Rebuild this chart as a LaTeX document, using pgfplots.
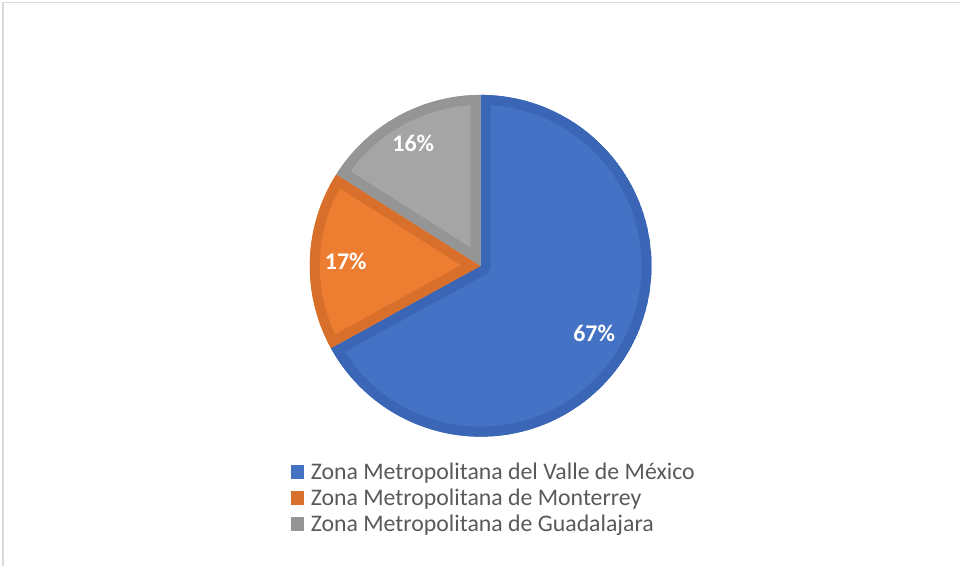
\documentclass[border=0pt]{standalone}
\usepackage{pgfplots}
\pgfplotsset{compat=1.18}
\usepackage{pgfplotstable}
\usepackage{fontspec}
\setmainfont{Carlito}

\definecolor{zblue}{HTML}{4472C4}
\definecolor{zbluedk}{HTML}{3B66B6}
\definecolor{zorange}{HTML}{ED7D31}
\definecolor{zorangedk}{HTML}{D8702B}
\definecolor{zgray}{HTML}{A5A5A5}
\definecolor{zgraydk}{HTML}{959595}
\definecolor{legtext}{HTML}{595959}
\definecolor{frame}{HTML}{D9D9D9}

% share of each metropolitan zone (%)
\pgfplotstableread[col sep=comma]{
zone,value
Valle de Mexico,67
Monterrey,17
Guadalajara,16
}\piedata

% pie centre and radius in picture units (1 unit = 1bp)
\def\cx{481}
\def\cy{300}
\def\rad{171}

\newcommand\slice[4]{%
  \begin{scope}
    \clip (axis cs:\cx,\cy) -- ++(#1:\rad bp) arc[start angle=#1, end angle=#2, radius=\rad bp] -- cycle;
    \fill[#3] (axis cs:\cx,\cy) -- ++(#1:\rad bp) arc[start angle=#1, end angle=#2, radius=\rad bp] -- cycle;
    \draw[#4, line width=20bp, line join=round] (axis cs:\cx,\cy) -- ++(#1:\rad bp) arc[start angle=#1, end angle=#2, radius=\rad bp] -- cycle;
  \end{scope}}

\begin{document}
\begin{tikzpicture}
\pgfplotstablegetelem{0}{value}\of\piedata \let\vA\pgfplotsretval
\pgfplotstablegetelem{1}{value}\of\piedata \let\vB\pgfplotsretval
\pgfplotstablegetelem{2}{value}\of\piedata \let\vC\pgfplotsretval
\pgfmathsetmacro\aA{90}
\pgfmathsetmacro\aB{\aA-3.6*\vA}
\pgfmathsetmacro\aC{\aB-3.6*\vB}
\pgfmathsetmacro\aD{\aC-3.6*\vC}
\pgfmathsetmacro\mA{(\aA+\aB)/2}
\pgfmathsetmacro\mB{(\aB+\aC)/2}
\pgfmathsetmacro\mC{(\aC+\aD)/2}
\begin{axis}[
    hide axis,
    scale only axis,
    width=961bp, height=566bp,
    xmin=0, xmax=961, ymin=0, ymax=566,
    clip=false,
    every node/.style={inner sep=0pt},
  ]
  \addplot[draw=none] coordinates {(0,0) (961,566)};

  % chart frame (only top and left edges are visible)
  \draw[frame, line width=1.5bp] (axis cs:2.9,0) |- (axis cs:961,563.3);

  \slice{\aA}{\aB}{zblue}{zbluedk}
  \slice{\aB}{\aC}{zorange}{zorangedk}
  \slice{\aC}{\aD}{zgray}{zgraydk}

  \begin{scope}[every node/.style={text=white, font=\bfseries\fontsize{24}{28}\selectfont}]
    \node at (axis cs:{\cx+132*cos(\mA)},{\cy+132*sin(\mA)}) {\vA\%};
    \node at (axis cs:{\cx+135*cos(\mB)},{\cy+135*sin(\mB)}) {\vB\%};
    \node at (axis cs:{\cx+140*cos(\mC)},{\cy+140*sin(\mC)}) {\vC\%};
  \end{scope}

  % legend
  \begin{scope}[every node/.style={text=legtext, anchor=base west, font=\fontsize{23.9}{26}\selectfont}]
    \fill[zblue] (axis cs:291,86.5) rectangle (axis cs:304,100.3);
    \node at (axis cs:307.5,86) {Zona Metropolitana del Valle de México};
    \fill[zorangedk] (axis cs:291,60.5) rectangle (axis cs:304,74.3);
    \node at (axis cs:307.5,60) {Zona Metropolitana de Monterrey};
    \fill[zgraydk] (axis cs:291,34.5) rectangle (axis cs:304,48.3);
    \node at (axis cs:307.5,34) {Zona Metropolitana de Guadalajara};
  \end{scope}
\end{axis}
\end{tikzpicture}
\end{document}
